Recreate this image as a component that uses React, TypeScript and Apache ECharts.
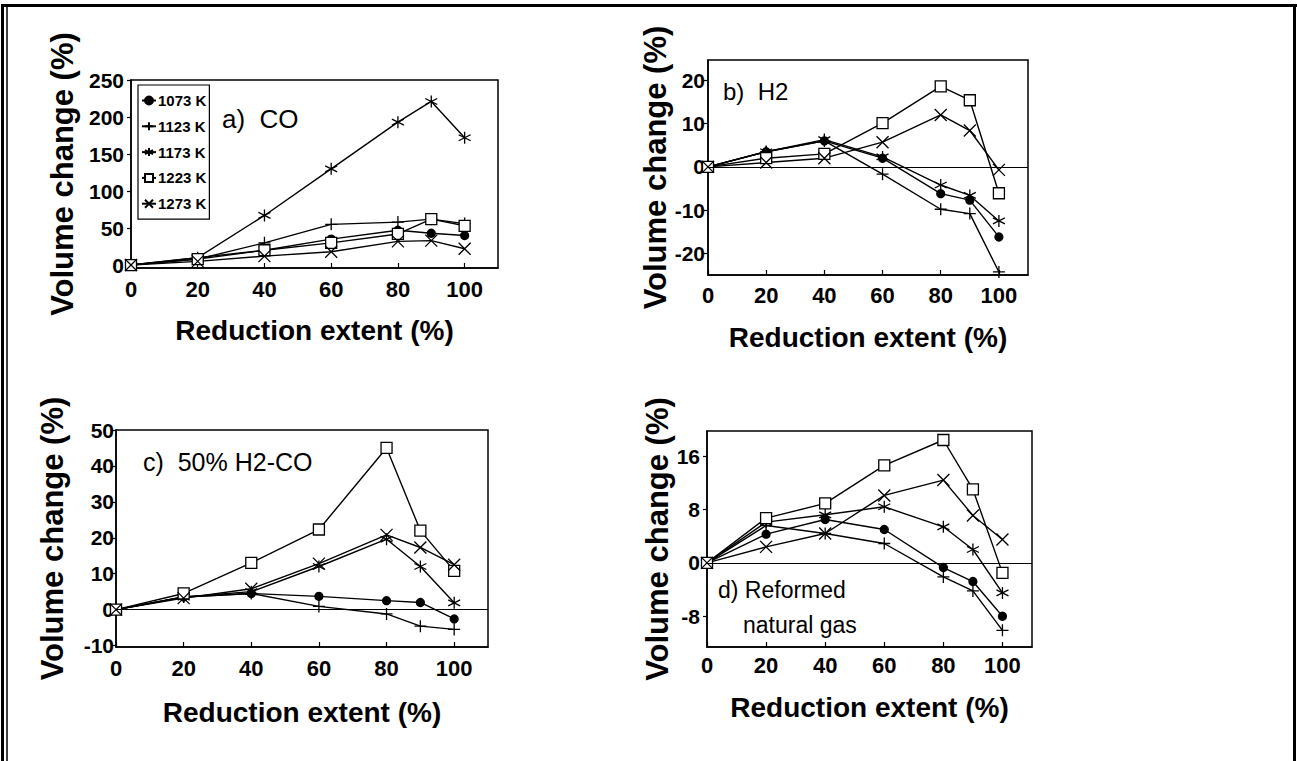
import React, { useEffect, useRef } from 'react';
import * as echarts from 'echarts';

// ---------- data ----------
const reductionExtent = [0, 20, 40, 60, 80, 90, 100];
const temperatures = ['1073 K', '1123 K', '1173 K', '1223 K', '1273 K'];

// a) CO
const coK1073 = [0, 10, 20, 35, 47, 43, 40];
const coK1123 = [0, 8, 30, 55, 58, 62, 56];
const coK1173 = [0, 10, 67, 130, 193, 221, 172];
const coK1223 = [0, 8, 20, 30, 42, 62, 53];
const coK1273 = [0, 5, 12, 18, 32, 33, 22];

// b) H2
const h2K1073 = [0, 3.5, 6, 2, -6.2, -7.7, -16.2];
const h2K1123 = [0, 3.5, 6, -1.7, -9.8, -10.8, -24.3];
const h2K1173 = [0, 3.5, 6.3, 2.3, -4.2, -6.6, -12.5];
const h2K1223 = [0, 2, 3, 10.1, 18.6, 15.4, -6.1];
const h2K1273 = [0, 1, 2, 5.7, 12, 8.4, -0.7];

// c) 50% H2-CO
const mixK1073 = [0, 3.5, 4.5, 3.7, 2.5, 2, -2.6];
const mixK1123 = [0, 3.5, 4.5, 0.9, -1.2, -4.6, -5.5];
const mixK1173 = [0, 3.5, 5, 12, 19.6, 12, 1.9];
const mixK1223 = [0, 4.5, 13, 22.3, 45, 22, 10.8];
const mixK1273 = [0, 3.2, 5.8, 12.8, 20.8, 17.3, 12.5];

// d) Reformed natural gas
const rngK1073 = [0, 4.3, 6.5, 5, -0.7, -2.8, -8];
const rngK1123 = [0, 5.6, 4.4, 2.9, -2.1, -4.2, -10.1];
const rngK1173 = [0, 6.1, 7.2, 8.4, 5.4, 2, -4.5];
const rngK1223 = [0, 6.7, 8.9, 14.6, 18.4, 11, -1.5];
const rngK1273 = [0, 2.4, 4.4, 10.1, 12.4, 7.1, 3.5];

// tick labels
const xTicks = [0, 20, 40, 60, 80, 100];
const yTicksA = [0, 50, 100, 150, 200, 250];
const yTicksB = [-20, -10, 0, 10, 20];
const yTicksC = [-10, 0, 10, 20, 30, 40, 50];
const yTicksD = [-8, 0, 8, 16];

const panelTitles = ['a)  CO', 'b)  H2', 'c)  50% H2-CO', 'd) Reformed', 'natural gas'];
const xTitle = 'Reduction extent (%)';
const yTitle = 'Volume change (%)';

// ---------- styling ----------
const FONT = '"Liberation Sans", Arial, Helvetica, sans-serif';
const SYMBOLS = [
  { symbol: 'circle', size: 8, fill: '#000' },
  { symbol: 'path://M5,0L5,10M0,5L10,5', size: 12, fill: 'transparent' },
  { symbol: 'path://M5,0L5,10M0.67,2.5L9.33,7.5M0.67,7.5L9.33,2.5', size: 12, fill: 'transparent' },
  { symbol: 'rect', size: 11, fill: '#fff' },
  { symbol: 'path://M0,0L10,10M10,0L0,10', size: 12, fill: 'transparent' },
];

const panels = [
  { data: [coK1073, coK1123, coK1173, coK1223, coK1273], yMin: -4, yMax: 250, yTicks: yTicksA, zero: false,
    grid: { left: 131, top: 80, width: 367, height: 188 }, xMargin: 10, yMargin: 7, xGap: 48, yGap: 53 },
  { data: [h2K1073, h2K1123, h2K1173, h2K1223, h2K1273], yMin: -25, yMax: 24.7, yTicks: yTicksB, zero: true,
    grid: { left: 708, top: 60, width: 320, height: 215 }, xMargin: 9, yMargin: 3, xGap: 48, yGap: 37 },
  { data: [mixK1073, mixK1123, mixK1173, mixK1223, mixK1273], yMin: -10.4, yMax: 50, yTicks: yTicksC, zero: true,
    grid: { left: 116, top: 430, width: 372, height: 217 }, xMargin: 10, yMargin: 2, xGap: 51, yGap: 48 },
  { data: [rngK1073, rngK1123, rngK1173, rngK1223, rngK1273], yMin: -12.6, yMax: 19.75, yTicks: yTicksD, zero: true,
    grid: { left: 707, top: 431, width: 325, height: 216 }, xMargin: 7, yMargin: 7, xGap: 46, yGap: 33 },
];

function buildOption() {
  const grid: any[] = [];
  const xAxis: any[] = [];
  const yAxis: any[] = [];
  const series: any[] = [];

  panels.forEach((p, i) => {
    grid.push({ ...p.grid, show: true, borderColor: '#000', borderWidth: 1.5, backgroundColor: 'transparent', containLabel: false });
    xAxis.push({
      type: 'value', gridIndex: i, min: 0, max: 110,
      axisLine: { show: true, onZero: false, lineStyle: { color: '#000', width: 1.5 } },
      axisTick: { show: true, inside: true, length: 5, customValues: xTicks, lineStyle: { color: '#000', width: 1.2 } },
      axisLabel: { customValues: xTicks, color: '#000', fontSize: 22, fontWeight: 'bold', fontFamily: FONT, margin: p.xMargin },
      splitLine: { show: false },
      name: xTitle, nameLocation: 'middle', nameGap: p.xGap,
      nameTextStyle: { color: '#000', fontSize: 28, fontWeight: 'bold', fontFamily: FONT },
    });
    yAxis.push({
      type: 'value', gridIndex: i, min: p.yMin, max: p.yMax,
      axisLine: { show: true, onZero: false, lineStyle: { color: '#000', width: 1.5 } },
      axisTick: { show: true, inside: false, length: 4, customValues: p.yTicks, lineStyle: { color: '#000', width: 1.2 } },
      axisLabel: { customValues: p.yTicks, color: '#000', fontSize: 21, fontWeight: 'bold', fontFamily: FONT, margin: p.yMargin },
      splitLine: { show: false },
      name: yTitle, nameLocation: 'middle', nameGap: p.yGap, nameRotate: 90,
      nameTextStyle: { color: '#000', fontSize: 31, fontWeight: 'bold', fontFamily: FONT },
    });
    p.data.forEach((vals, k) => {
      const s = SYMBOLS[k];
      const ser: any = {
        type: 'line', name: temperatures[k], xAxisIndex: i, yAxisIndex: i,
        data: reductionExtent.map((x, j) => [x, vals[j]]),
        symbol: s.symbol, symbolSize: s.size, showAllSymbol: true,
        lineStyle: { color: '#000', width: 1.4 },
        itemStyle: { color: s.fill, borderColor: '#000', borderWidth: 1.3 },
        emphasis: { disabled: true },
        z: 3,
      };
      if (k === 0 && p.zero) {
        ser.markLine = {
          silent: true, symbol: 'none', label: { show: false },
          lineStyle: { color: '#000', width: 1.2, type: 'solid' },
          data: [{ yAxis: 0 }],
        };
      }
      series.push(ser);
    });
  });

  const txt = (text: string, x: number, y: number, size: number) => ({
    type: 'text', x, y, z: 10,
    style: { text, fill: '#000', font: `normal ${size}px ${FONT}`, verticalAlign: 'middle', align: 'left' },
  });

  const graphic: any[] = [
    // page frame
    { type: 'line', shape: { x1: 2, y1: 5.5, x2: 1297, y2: 5.5 }, style: { stroke: '#000', lineWidth: 3 } },
    { type: 'line', shape: { x1: 2.5, y1: 4, x2: 2.5, y2: 761 }, style: { stroke: '#000', lineWidth: 3 } },
    { type: 'line', shape: { x1: 7, y1: 7, x2: 7, y2: 761 }, style: { stroke: '#000', lineWidth: 1.5 } },
    { type: 'line', shape: { x1: 1294.5, y1: 4, x2: 1294.5, y2: 761 }, style: { stroke: '#000', lineWidth: 3 } },
    txt(panelTitles[0], 222, 119, 26),
    txt(panelTitles[1], 723, 91, 24),
    txt(panelTitles[2], 143, 462, 25),
    txt(panelTitles[3], 718, 590, 23),
    txt(panelTitles[4], 743, 625, 23),
  ];

  return {
    animation: false,
    backgroundColor: '#fff',
    textStyle: { fontFamily: FONT },
    legend: {
      show: true, orient: 'vertical', left: 138, top: 85,
      data: temperatures,
      padding: [8, 3, 8, 3], itemGap: 10.8, itemWidth: 14, itemHeight: 10,
      borderColor: '#000', borderWidth: 1.2, backgroundColor: '#fff',
      textStyle: { color: '#000', fontSize: 15, fontWeight: 'bold', fontFamily: FONT, padding: [0, 0, 0, -3] },
      selectedMode: false,
    },
    grid, xAxis, yAxis, series, graphic,
  };
}

export default function App() {
  const ref = useRef<HTMLDivElement>(null);
  useEffect(() => {
    document.body.style.margin = '0';
    if (!ref.current) return;
    const chart = echarts.init(ref.current, undefined, { renderer: 'svg' });
    chart.setOption(buildOption() as any);
    return () => chart.dispose();
  }, []);
  return <div ref={ref} style={{ position: 'absolute', left: 0, top: 0, width: 1297, height: 761, background: '#fff' }} />;
}
